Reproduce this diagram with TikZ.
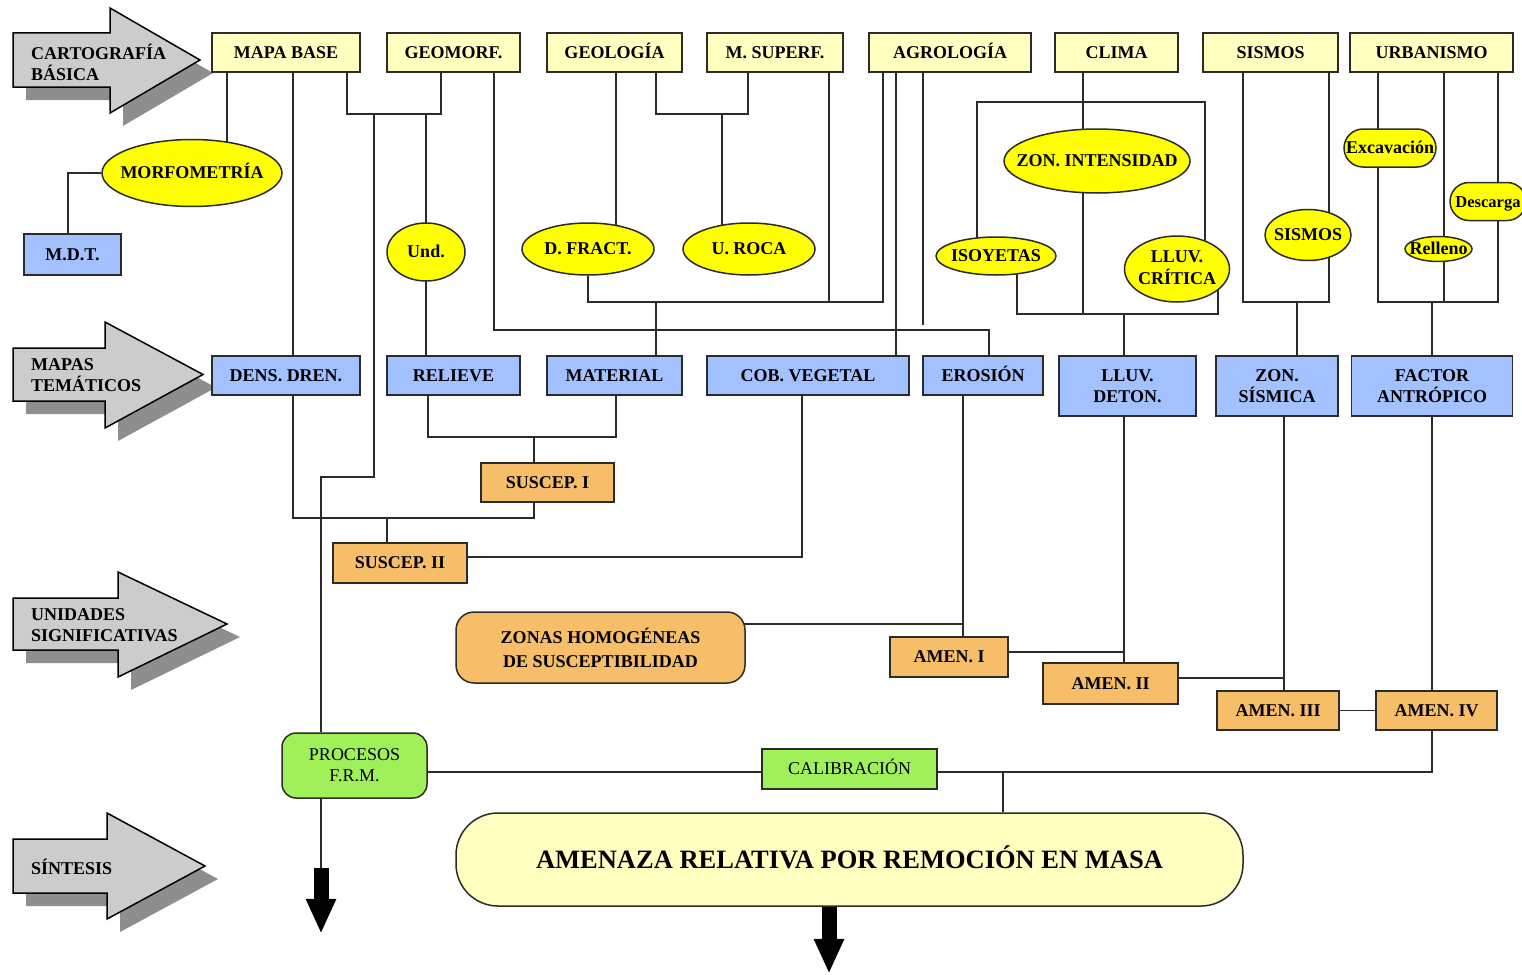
\documentclass[tikz,border=0pt]{standalone}
\usepackage{fontspec}
\setmainfont{Liberation Serif}
\usepackage{xcolor}
\usepackage{tikz}
\usetikzlibrary{positioning,shapes.geometric,arrows.meta}

\definecolor{paleyellow}{HTML}{FFFFC0}
\definecolor{ovalyellow}{HTML}{FFFF00}
\definecolor{mapblue}{HTML}{A3C1FF}
\definecolor{unitorange}{HTML}{F6BE68}
\definecolor{synthgreen}{HTML}{A0F05A}
\definecolor{arrowgray}{HTML}{CCCCCC}
\definecolor{shadowgray}{HTML}{8E8E8E}
\definecolor{edgegray}{HTML}{2B2B2B}

\pgfdeclarelayer{bg}
\pgfsetlayers{bg,main}

\newcommand{\ovaltext}[1]{\makebox[0pt]{#1}}
\newcommand{\stagearrow}[6]{%
  \fill[shadowgray, shift={(13,13)}] (13,#1) -- (#3,#1) -- (#3,#4) -- (#6,{(#1+#2)/2}) -- (#3,#5) -- (#3,#2) -- (13,#2) -- cycle;
  \filldraw[fill=arrowgray, draw=black, line width=1.5pt] (13,#1) -- (#3,#1) -- (#3,#4) -- (#6,{(#1+#2)/2}) -- (#3,#5) -- (#3,#2) -- (13,#2) -- cycle;}

\begin{document}
\begin{tikzpicture}[x=1pt, y=-1pt,
  box/.style={rectangle, draw=edgegray, line width=1.5pt, inner sep=0pt, align=center, font=\bfseries\fontsize{18}{21}\selectfont},
  oneline/.style={text height=11.9pt, text depth=0pt},
  source/.style={box, oneline, fill=paleyellow, minimum height=39pt},
  theme/.style={box, fill=mapblue},
  unit/.style={box, fill=unitorange},
  synth/.style={box, fill=synthgreen, font=\fontsize{18}{21}\selectfont},
  ovalbase/.style={ellipse, draw=edgegray, line width=1.5pt, fill=ovalyellow, inner sep=0pt, font=\bfseries\fontsize{18}{21}\selectfont},
  oval/.style={ovalbase, oneline},
  pill/.style={box, oneline, fill=ovalyellow, rounded corners=19pt, minimum height=38pt},
  stagelbl/.style={anchor=west, align=left, inner sep=0pt, font=\bfseries\fontsize{18}{21}\selectfont},
  link/.style={draw=edgegray, line width=1.5pt},
  blockarrow/.style={line width=15pt, -{Triangle[length=35pt,width=28pt]}}]

  \useasboundingbox (0,0) rectangle (1522,974);

  \stagearrow{33}{87}{110}{8}{113}{200}
  \stagearrow{348}{401}{105}{322}{428}{203}
  \stagearrow{598}{650}{118}{572}{677}{227}
  \stagearrow{839}{893}{107}{813}{919}{205}
  \node[stagelbl] (cartolbl) at (31,62) {CARTOGRAFÍA\\BÁSICA};
  \node[stagelbl] (mapaslbl) at (31,375) {MAPAS\\TEMÁTICOS};
  \node[stagelbl] (unidlbl) at (31,625) {UNIDADES\\SIGNIFICATIVAS};
  \node[stagelbl] (sintlbl) at (31,867) {SÍNTESIS};

  \node[source, minimum width=148pt] (mapa) at (286,52.5) {MAPA BASE};
  \node[source, minimum width=133pt] (geomorf) at (453.5,52.5) {GEOMORF.};
  \node[source, minimum width=135pt] (geologia) at (614.5,52.5) {GEOLOGÍA};
  \node[source, minimum width=136pt] (msuperf) at (775,52.5) {M. SUPERF.};
  \node[source, minimum width=162pt] (agrologia) at (950,52.5) {AGROLOGÍA};
  \node[source, minimum width=123pt] (clima) at (1116.5,52.5) {CLIMA};
  \node[source, minimum width=135pt] (sismos) at (1270.5,52.5) {SISMOS};
  \node[source, minimum width=163pt] (urbanismo) at (1431.5,52.5) {URBANISMO};

  \node[oval, minimum width=180pt, minimum height=67pt] (morfo) at (192,173) {\ovaltext{MORFOMETRÍA}};
  \node[oval, minimum width=78pt, minimum height=58pt] (und) at (426,252) {\ovaltext{Und.}};
  \node[oval, minimum width=132pt, minimum height=52pt] (dfract) at (588,249) {\ovaltext{D. FRACT.}};
  \node[oval, minimum width=132pt, minimum height=52pt] (uroca) at (749,249) {\ovaltext{U. ROCA}};
  \node[oval, minimum width=120pt, minimum height=38pt] (isoyetas) at (996,256) {\ovaltext{ISOYETAS}};
  \node[oval, minimum width=186pt, minimum height=64pt] (zonint) at (1097,161) {\ovaltext{ZON. INTENSIDAD}};
  \node[ovalbase, minimum width=105pt, minimum height=66pt] (lluvcrit) at (1177,269) {\ovaltext{\begin{tabular}{@{}c@{}}LLUV.\\CRÍTICA\end{tabular}}};
  \node[oval, minimum width=86pt, minimum height=51pt] (sismosov) at (1308,235) {\ovaltext{SISMOS}};
  \node[oval, minimum width=67pt, minimum height=25pt] (relleno) at (1438.5,249) {\ovaltext{Relleno}};
  \node[pill, minimum width=92pt] (excav) at (1390,148) {Excavación};
  \node[pill, minimum width=76pt, font=\bfseries\fontsize{16.5}{20}\selectfont] (descarga) at (1488,201.5) {Descarga};

  \node[theme, oneline, minimum width=97pt, minimum height=41pt] (mdt) at (72.5,254.5) {M.D.T.};
  \node[theme, oneline, minimum width=148pt, minimum height=39pt] (dens) at (286,375.5) {DENS. DREN.};
  \node[theme, oneline, minimum width=133pt, minimum height=39pt] (relieve) at (453.5,375.5) {RELIEVE};
  \node[theme, oneline, minimum width=135pt, minimum height=39pt] (material) at (614.5,375.5) {MATERIAL};
  \node[theme, oneline, minimum width=202pt, minimum height=39pt] (cobveg) at (808,375.5) {COB. VEGETAL};
  \node[theme, oneline, minimum width=120pt, minimum height=39pt] (erosion) at (983,375.5) {EROSIÓN};
  \node[theme, minimum width=137pt, minimum height=60pt] (lluvdet) at (1127.5,386) {LLUV.\\DETON.};
  \node[theme, minimum width=122pt, minimum height=60pt] (zonsis) at (1277,386) {ZON.\\SÍSMICA};
  \node[theme, minimum width=161pt, minimum height=60pt] (factor) at (1432,386) {FACTOR\\ANTRÓPICO};

  \node[unit, oneline, minimum width=133pt, minimum height=39pt] (susc1) at (547.5,482.5) {SUSCEP. I};
  \node[unit, oneline, minimum width=134pt, minimum height=40pt] (susc2) at (400,563) {SUSCEP. II};
  \node[unit, minimum width=289pt, minimum height=71pt, rounded corners=18pt, font=\bfseries\fontsize{18}{24}\selectfont] (zonas) at (600.5,647.5) {ZONAS HOMOGÉNEAS\\DE SUSCEPTIBILIDAD};
  \node[unit, oneline, minimum width=118pt, minimum height=40pt] (amen1) at (949,657) {AMEN. I};
  \node[unit, oneline, minimum width=135pt, minimum height=41pt] (amen2) at (1110.5,683.5) {AMEN. II};
  \node[unit, oneline, minimum width=122pt, minimum height=39pt] (amen3) at (1278,710.5) {AMEN. III};
  \node[unit, oneline, minimum width=121pt, minimum height=39pt] (amen4) at (1436.5,710.5) {AMEN. IV};

  \node[synth, minimum width=145pt, minimum height=65pt, rounded corners=14pt] (procesos) at (354.5,765.5) {PROCESOS\\F.R.M.};
  \node[synth, oneline, minimum width=175pt, minimum height=40pt] (calib) at (849.5,769) {CALIBRACIÓN};
  \node[box, fill=paleyellow, minimum width=787pt, minimum height=93pt, rounded corners=42pt, text height=17.5pt, text depth=0pt, font=\bfseries\fontsize{26.5}{30}\selectfont] (amenaza) at (849.5,859.5) {AMENAZA RELATIVA POR REMOCIÓN EN MASA};

  \coordinate (jBase) at (347,114);
  \coordinate (jGeo) at (656,114);
  \coordinate (jClima) at (977,102);
  \coordinate (jRock) at (588,302);
  \coordinate (jEros) at (494,330);
  \coordinate (jLoose) at (923,325);
  \coordinate (jRain) at (1017,314);
  \coordinate (jQuake) at (1243,302);
  \coordinate (jUrban) at (1378,302);
  \coordinate (jSusc) at (428,437);
  \coordinate (jDren) at (293,518);
  \coordinate (jFrm) at (374,477);
  \coordinate (jCal) at (1003,772);

  \begin{pgfonlayer}{bg}
  \draw[link] ([xshift=-59pt]mapa.south) -- ([xshift=-59pt]mapa.south |- morfo);
  \draw[link] (morfo) -| ([xshift=-4.5pt]mdt.north);
  \draw[link] ([xshift=7pt]mapa.south) -- (jDren) -| ([xshift=-13.5pt]susc1.south);
  \draw[link] ([xshift=-13pt]susc2.north) -- ([xshift=-13pt]susc2.north |- jDren);
  \draw[link] (mapa.south -| jBase) -- (jBase) -| ([xshift=-12.5pt]geomorf.south);
  \draw[link] (jBase -| und) -- (relieve.north -| und);
  \draw[link] (relieve.south -| jSusc) -- (jSusc) -| ([xshift=1.5pt]material.south);
  \draw[link] ([xshift=-13.5pt]susc1.north) -- ([xshift=-13.5pt]susc1.north |- jSusc);
  \draw[link] (jBase -| jFrm) -- (jFrm) -| ([xshift=-33.5pt]procesos.north);
  \draw[link] ([xshift=-33.5pt]procesos.south) -- ++(0,70);
  \draw[link] ([xshift=40.5pt]geomorf.south) -- (jEros) -| ([xshift=6pt]erosion.north);
  \draw[link] ([xshift=1.5pt]geologia.south) -- ([xshift=1.5pt]geologia.south |- dfract);
  \draw[link] (geologia.south -| jGeo) -- (jGeo) -| ([xshift=-27pt]msuperf.south);
  \draw[link] ([xshift=-27pt]uroca.center |- jGeo) -- ([xshift=-27pt]uroca.center);
  \draw[link] (dfract) -- (jRock) -| ([xshift=-67pt]agrologia.south);
  \draw[link] ([xshift=54pt]msuperf.south) -- ([xshift=54pt]msuperf.south |- jRock);
  \draw[link] (jRock -| jGeo) -- (material.north -| jGeo);
  \draw[link] ([xshift=-54pt]agrologia.south) -- ([xshift=-54pt]agrologia.south |- cobveg.north);
  \draw[link] (agrologia.south -| jLoose) -- (jLoose);
  \draw[link] ([xshift=-33.5pt]clima.south) -- ([xshift=-33.5pt]clima.south |- jRain);
  \draw[link] (jClima |- isoyetas) -- (jClima) -| ([xshift=28pt]lluvcrit.center);
  \draw[link] (jRain |- isoyetas) -- (jRain) -| ([xshift=41pt]lluvcrit.center);
  \draw[link] ([xshift=-3.5pt]lluvdet.center |- jRain) -- ([xshift=-3.5pt]lluvdet.center |- amen2.north);
  \draw[link] (sismos.south -| jQuake) -- (jQuake) -| ([xshift=58.5pt]sismos.south);
  \draw[link] ([xshift=20pt]zonsis.north |- jQuake) -- ([xshift=20pt]zonsis.north);
  \draw[link] ([xshift=7pt]zonsis.south) -- ([xshift=7pt]zonsis.south |- amen3.north);
  \draw[link] (urbanismo.south -| jUrban) -- (jUrban) -| ([xshift=66.5pt]urbanismo.south);
  \draw[link] ([xshift=12.5pt]urbanismo.south) -- ([xshift=12.5pt]urbanismo.south |- jUrban);
  \draw[link] (jUrban -| factor) -- (factor.north);
  \draw[link] (factor.south) -- (factor |- amen4.north);
  \draw[link] (factor |- amen4.south) |- (calib.east |- jCal);
  \draw[link] (jCal) -- (jCal |- amenaza.north);
  \draw[link] (procesos.east |- jCal) -- (calib.west |- jCal);
  \draw[link] (amen3.east) -- (amen4.west);
  \draw[link] ([yshift=5.5pt]amen2.east) -| ([xshift=7pt]zonsis.south);
  \draw[link] ([yshift=5pt]amen1.east) -| ([xshift=-3.5pt]lluvdet.south);
  \draw[link] ([yshift=23.5pt]zonas.center) -| ([xshift=-20pt]erosion.south);
  \draw[link] ([xshift=-20pt]erosion.south) -- ([xshift=-20pt]erosion.south |- amen1.north);
  \draw[link] ([xshift=-6pt]cobveg.south) |- ([yshift=6pt]susc2.east);
  \end{pgfonlayer}

  \draw[blockarrow] ([xshift=-33.5pt]procesos.south) ++(0,69) -- ++(0,66);
  \draw[blockarrow] ([xshift=-20.5pt]amenaza.south) -- ++(0,67);

\end{tikzpicture}
\end{document}
